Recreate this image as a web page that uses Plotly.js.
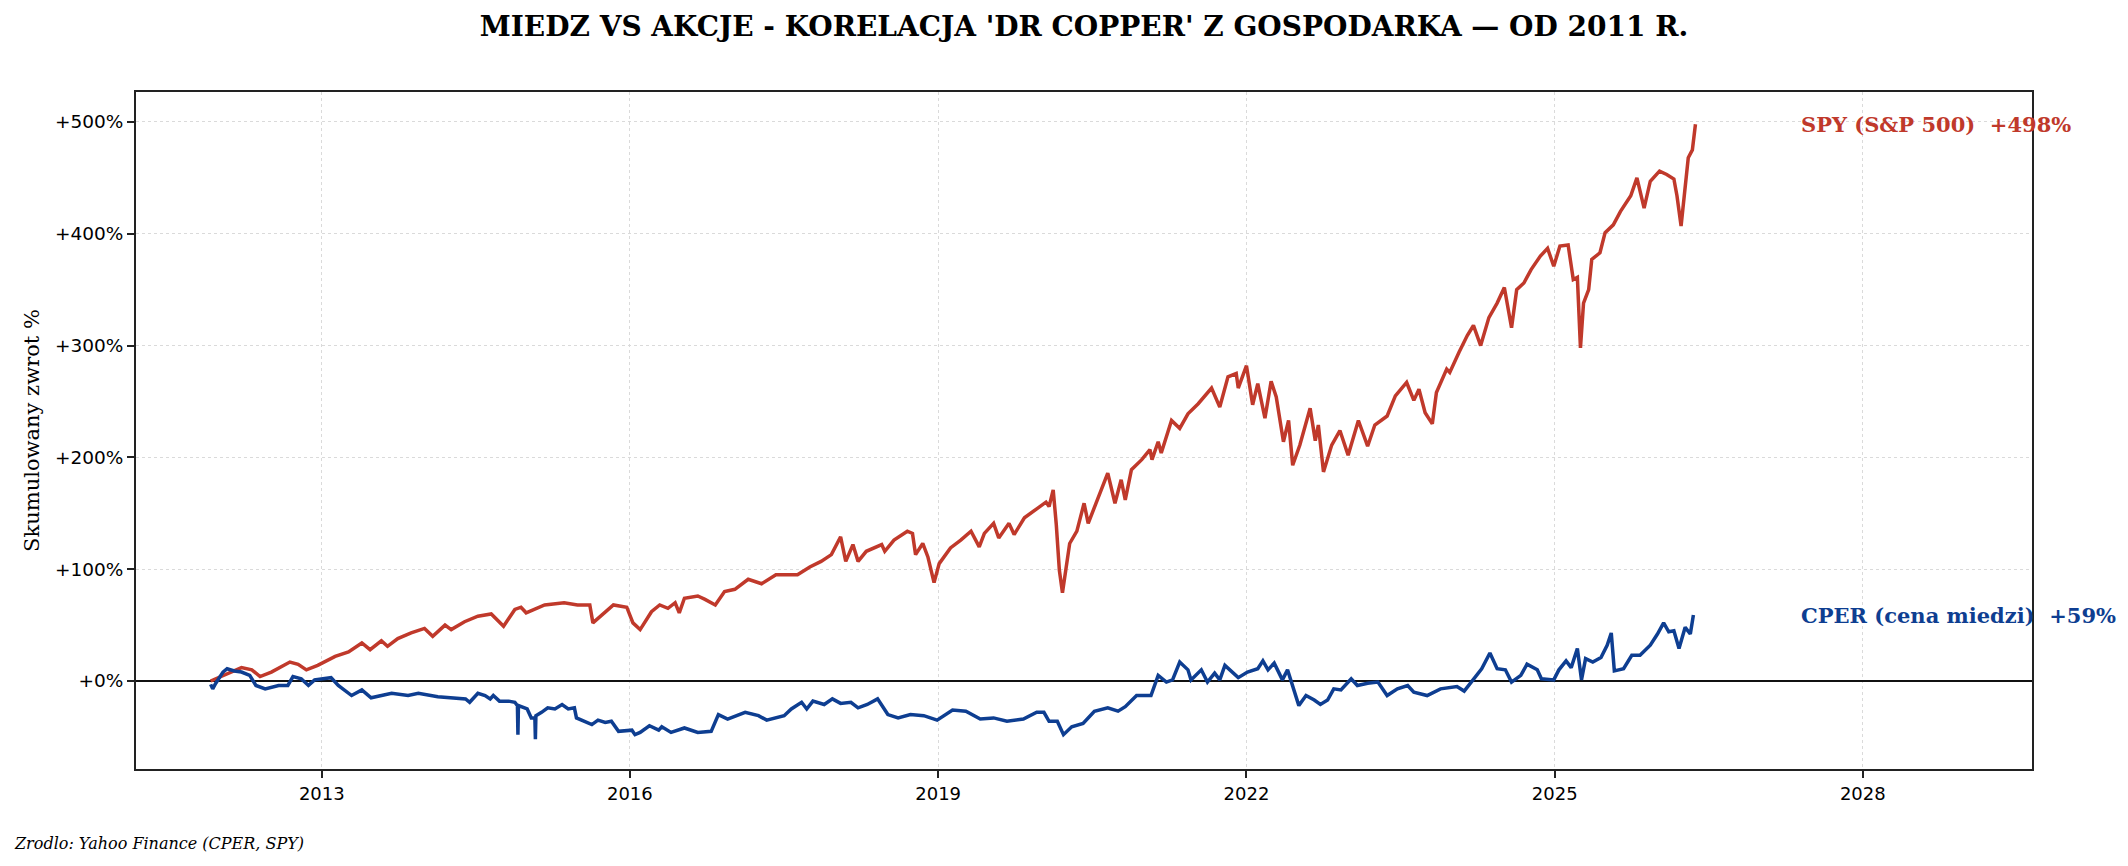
<!DOCTYPE html>
<html>
<head>
<meta charset="utf-8">
<script src="https://cdn.plot.ly/plotly-3.0.1.min.js"></script>
<style>
  html, body { margin: 0; padding: 0; background: #fff; }
  #chart { width: 2128px; height: 866px; }
</style>
</head>
<body>
<div id="chart"></div>
<script>
// czas jako ulamek roku, wartosci = skumulowany zwrot w %
var spyT = [2011.92,2012.02,2012.12,2012.22,2012.32,2012.40,2012.51,2012.69,2012.77,2012.85,2012.96,
  2013.13,2013.26,2013.39,2013.47,2013.58,2013.64,2013.74,2013.87,2014.00,2014.08,2014.20,2014.26,
  2014.39,2014.52,2014.65,2014.77,2014.88,2014.94,2014.99,2015.17,2015.36,2015.49,2015.61,2015.64,
  2015.72,2015.84,2015.97,2016.03,2016.10,2016.15,2016.21,2016.29,2016.37,2016.44,2016.48,2016.53,
  2016.66,2016.73,2016.83,2016.92,2017.02,2017.15,2017.28,2017.42,2017.50,2017.63,2017.75,2017.86,
  2017.96,2018.05,2018.10,2018.17,2018.22,2018.30,2018.45,2018.48,2018.57,2018.70,2018.75,2018.78,
  2018.85,2018.90,2018.96,2019.01,2019.12,2019.22,2019.32,2019.40,2019.45,2019.54,2019.59,2019.69,
  2019.74,2019.84,2019.96,2020.05,2020.08,2020.12,2020.15,2020.18,2020.21,2020.24,2020.28,2020.35,
  2020.42,2020.46,2020.55,2020.65,2020.72,2020.78,2020.82,2020.88,2020.98,2021.06,2021.08,2021.14,
  2021.17,2021.27,2021.35,2021.43,2021.53,2021.66,2021.74,2021.82,2021.90,2021.92,2022.00,2022.06,
  2022.11,2022.18,2022.24,2022.29,2022.36,2022.41,2022.45,2022.52,2022.62,2022.67,2022.70,2022.75,
  2022.83,2022.91,2022.99,2023.09,2023.18,2023.25,2023.37,2023.45,2023.56,2023.63,2023.68,2023.74,
  2023.81,2023.85,2023.95,2023.98,2024.07,2024.15,2024.21,2024.28,2024.36,2024.44,2024.51,2024.58,
  2024.63,2024.70,2024.77,2024.86,2024.93,2024.99,2025.05,2025.13,2025.18,2025.22,2025.25,2025.28,
  2025.33,2025.36,2025.44,2025.49,2025.57,2025.64,2025.74,2025.80,2025.87,2025.93,2026.02,2026.09,
  2026.16,2026.19,2026.23,2026.27,2026.30,2026.34,2026.37];
var spyRet = [0,4,8,12,10,4,8,17,15,10,14,
  22,26,34,28,36,31,38,43,47,40,50,46,
  53,58,60,49,64,66,61,68,70,68,68,52,
  58,68,66,52,46,53,62,68,65,70,61,74,
  76,73,68,80,82,91,87,95,95,95,102,107,
  113,129,107,122,107,116,122,116,126,134,132,113,
  123,111,88,105,119,126,134,120,132,141,128,141,
  131,146,154,160,156,171,140,99,79,97,123,134,
  159,141,162,186,159,180,162,189,198,207,198,214,
  204,233,226,239,248,262,245,272,275,262,282,247,
  266,235,268,254,214,233,193,211,244,215,229,187,
  211,224,202,233,210,229,237,255,267,251,261,240,
  230,258,279,276,294,309,318,300,325,338,352,316,
  350,356,368,380,387,371,389,390,359,361,298,338,
  350,377,383,401,408,420,434,450,423,447,456,453,
  449,434,407,443,468,475,498];

var cperT = [2011.92,2011.94,2011.97,2012.04,2012.08,2012.15,2012.22,2012.30,2012.36,2012.45,2012.58,
  2012.67,2012.72,2012.80,2012.87,2012.93,2013.09,2013.16,2013.29,2013.39,2013.48,2013.68,2013.84,
  2013.94,2014.13,2014.25,2014.33,2014.40,2014.44,2014.52,2014.59,2014.64,2014.67,2014.73,2014.82,
  2014.88,2014.905,2014.91,2014.915,2015.00,2015.04,2015.075,2015.08,2015.085,2015.14,2015.20,2015.27,
  2015.34,2015.40,2015.46,2015.48,2015.55,2015.63,2015.69,2015.76,2015.82,2015.89,2016.02,2016.05,
  2016.10,2016.19,2016.28,2016.31,2016.40,2016.53,2016.66,2016.79,2016.86,2016.95,2017.12,2017.25,
  2017.33,2017.50,2017.57,2017.67,2017.72,2017.78,2017.89,2017.97,2018.05,2018.15,2018.22,2018.31,
  2018.41,2018.51,2018.61,2018.73,2018.86,2018.99,2019.14,2019.27,2019.41,2019.54,2019.67,2019.83,
  2019.96,2020.03,2020.08,2020.16,2020.22,2020.30,2020.41,2020.52,2020.65,2020.75,2020.82,2020.93,
  2021.07,2021.14,2021.22,2021.28,2021.35,2021.43,2021.46,2021.56,2021.62,2021.69,2021.74,2021.79,
  2021.92,2022.01,2022.11,2022.16,2022.21,2022.27,2022.35,2022.40,2022.51,2022.58,2022.66,2022.72,
  2022.79,2022.85,2022.92,2023.02,2023.08,2023.18,2023.28,2023.37,2023.47,2023.57,2023.63,2023.76,
  2023.89,2024.05,2024.12,2024.21,2024.29,2024.37,2024.44,2024.52,2024.58,2024.67,2024.73,2024.83,
  2024.87,2024.99,2025.04,2025.11,2025.16,2025.22,2025.26,2025.30,2025.37,2025.45,2025.51,2025.55,
  2025.58,2025.67,2025.75,2025.83,2025.93,2026.00,2026.06,2026.11,2026.16,2026.21,2026.27,2026.32,
  2026.35];
var cperRet = [-3,-7,-2,8,11,9,8,5,-4,-7,-4,
  -4,4,2,-4,1,3,-4,-13,-8,-15,-11,-13,
  -11,-14,-15,-16,-16,-19,-11,-13,-16,-13,-18,-18,
  -19,-22,-48,-22,-25,-33,-33,-52,-31,-28,-24,-25,
  -21,-25,-24,-33,-36,-39,-35,-37,-36,-45,-44,-48,
  -46,-40,-44,-41,-46,-42,-46,-45,-30,-34,-28,-31,
  -35,-31,-25,-19,-25,-18,-21,-16,-20,-19,-24,-21,
  -16,-30,-33,-30,-31,-35,-26,-27,-34,-33,-36,-34,
  -28,-28,-36,-36,-48,-41,-38,-27,-24,-27,-23,-13,
  -13,5,-1,1,17,10,1,10,-1,7,1,14,
  3,8,11,18,10,16,1,10,-22,-13,-17,-21,
  -17,-7,-8,2,-4,-2,-1,-13,-7,-4,-10,-13,
  -7,-5,-9,1,11,25,11,10,-1,5,15,10,
  2,1,10,18,12,29,1,20,17,21,32,43,
  9,11,23,23,32,42,52,44,45,29,48,42,
  59];

var yTicks = [0, 100, 200, 300, 400, 500];
var xTickYears = [2013, 2016, 2019, 2022, 2025, 2028];
var spyLabel = 'SPY (S&P 500)\u00a0 +498%';
var cperLabel = 'CPER (cena miedzi)\u00a0 +59%';
var spyEnd = 498, cperEnd = 59;

var spyColor = '#c0392b';
var cperColor = '#0e3e91';

function toDate(t) {
  var y = Math.floor(t);
  var a = Date.UTC(y, 0, 1), b = Date.UTC(y + 1, 0, 1);
  return new Date(a + (t - y) * (b - a)).toISOString().slice(0, 19).replace('T', ' ');
}

var traces = [
  {
    x: spyT.map(toDate), y: spyRet, type: 'scatter', mode: 'lines',
    line: {color: spyColor, width: 3.5}, name: 'SPY'
  },
  {
    x: cperT.map(toDate), y: cperRet, type: 'scatter', mode: 'lines',
    line: {color: cperColor, width: 3.5}, name: 'CPER'
  }
];

var serif = 'DejaVu Serif, Liberation Serif, serif';
var sans = 'DejaVu Sans, Liberation Sans, sans-serif';
var labelX = toDate(2027.38);

var layout = {
  width: 2128, height: 866,
  paper_bgcolor: '#fff', plot_bgcolor: '#fff',
  margin: {l: 136, r: 96, t: 92, b: 97},
  showlegend: false,
  title: {
    text: "<b>MIEDZ VS AKCJE - KORELACJA 'DR COPPER' Z GOSPODARKA — OD 2011 R.</b>",
    font: {family: serif, size: 28, color: '#000'},
    x: 0.5, xref: 'paper', xanchor: 'center', y: 1 - 26 / 866, yanchor: 'middle', yref: 'container'
  },
  xaxis: {
    type: 'date',
    range: [toDate(2011.193), toDate(2029.645)],
    tickvals: xTickYears.map(function (y) { return y + '-01-01'; }),
    ticktext: xTickYears.map(String),
    tickfont: {family: sans, size: 18, color: '#000'},
    ticks: 'outside', ticklen: 7, tickwidth: 2, tickcolor: '#222',
    showgrid: true, gridcolor: '#dadada', gridwidth: 1, griddash: 'dot',
    showline: true, mirror: true, linecolor: '#222', linewidth: 2,
    zeroline: false
  },
  yaxis: {
    range: [-78.7, 526.8],
    tickvals: yTicks,
    ticktext: yTicks.map(function (v) { return '+' + v + '%'; }),
    tickfont: {family: sans, size: 18.5, color: '#000'},
    ticks: 'outside', ticklen: 7, tickwidth: 2, tickcolor: '#222',
    showgrid: true, gridcolor: '#dadada', gridwidth: 1, griddash: 'dot',
    showline: true, mirror: true, linecolor: '#222', linewidth: 2,
    zeroline: true, zerolinecolor: '#111', zerolinewidth: 2,
    title: {text: 'Skumulowany zwrot %', font: {family: serif, size: 21, color: '#000'}, standoff: 10}
  },
  annotations: [
    {
      x: labelX, y: spyEnd, xref: 'x', yref: 'y', text: '<b>' + spyLabel + '</b>',
      showarrow: false, xanchor: 'left', yanchor: 'middle',
      font: {family: serif, size: 21, color: spyColor}
    },
    {
      x: labelX, y: cperEnd, xref: 'x', yref: 'y', text: '<b>' + cperLabel + '</b>',
      showarrow: false, xanchor: 'left', yanchor: 'middle',
      font: {family: serif, size: 21, color: cperColor}
    },
    {
      x: (12 - 136) / 1896, y: (769 - 843) / 677, xref: 'paper', yref: 'paper',
      text: 'Zrodlo: Yahoo Finance (CPER, SPY)', showarrow: false,
      xanchor: 'left', yanchor: 'middle',
      font: {family: serif, size: 16, color: '#000', style: 'italic'}
    }
  ]
};

Plotly.newPlot('chart', traces, layout, {staticPlot: true, displayModeBar: false});
</script>
</body>
</html>
